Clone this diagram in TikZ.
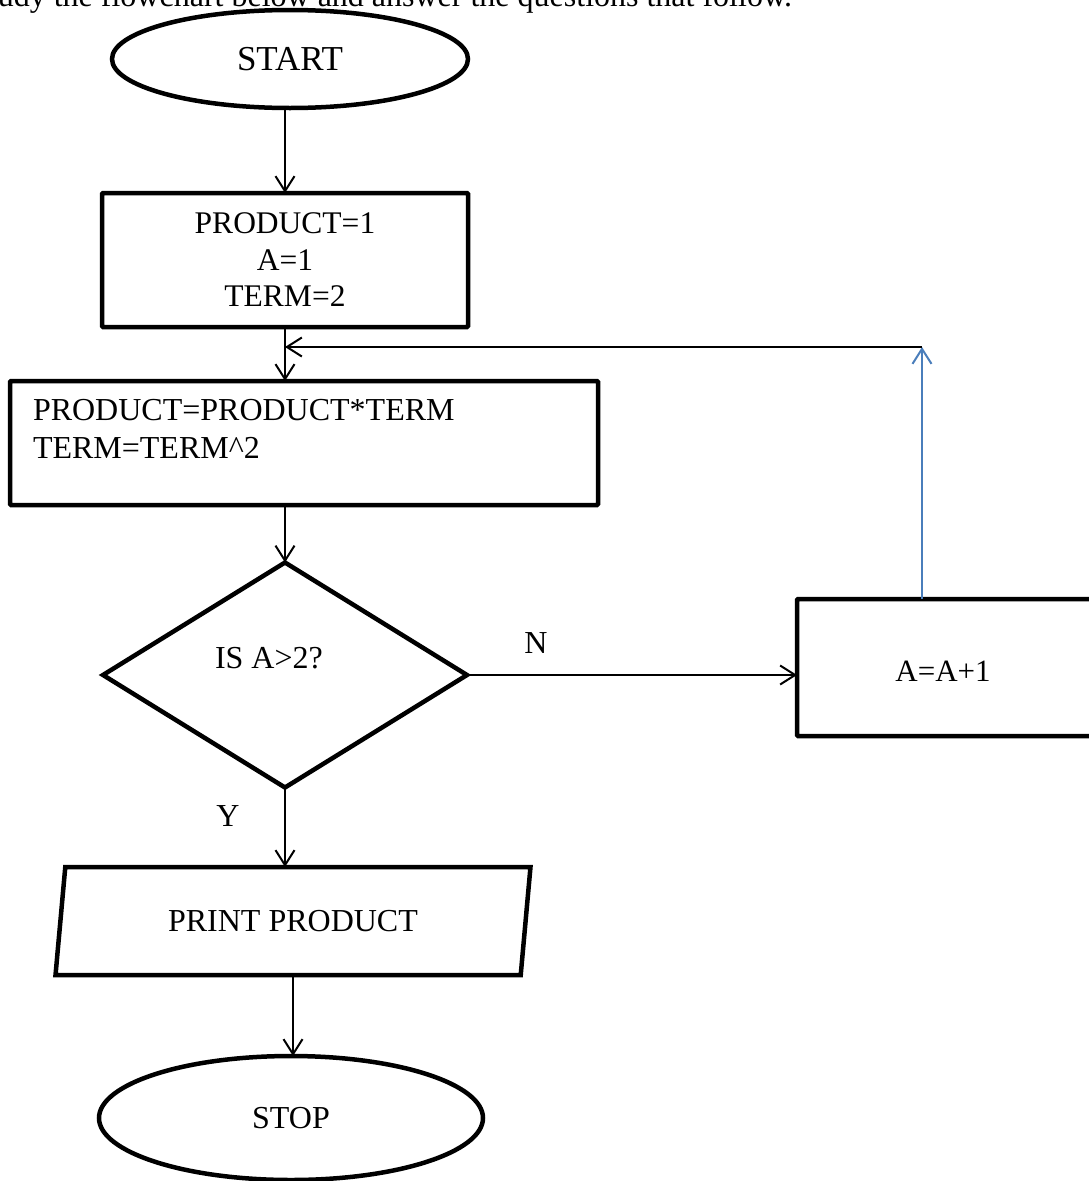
\documentclass[tikz,border=0pt]{standalone}
\usepackage{fontspec}
\setmainfont{Liberation Serif}
\usetikzlibrary{arrows.meta,shapes.geometric}
\definecolor{loopblue}{RGB}{74,126,187}
\begin{document}
\begin{tikzpicture}[x=1pt,y=-1pt,
  every node/.style={inner sep=0pt, outer sep=0pt},
  shapeline/.style={draw=black, line width=4.5pt},
  terminal/.style={shapeline, ellipse},
  process/.style={shapeline, rectangle, rounded corners=1pt},
  decision/.style={shapeline, diamond},
  io/.style={shapeline, trapezium, trapezium left angle=76, trapezium right angle=104, trapezium stretches},
  flow/.style={line width=2pt, -{Straight Barb[length=15pt,width=19pt,line width=2pt]}},
  txt/.style={font=\fontsize{32}{38}\selectfont},
  inittxt/.style={font=\fontsize{31.5}{36.5}\selectfont},
  bigtxt/.style={font=\fontsize{35}{38}\selectfont},
]
\useasboundingbox (0,0) rectangle (1089,1181);

% heading line above the chart
\node[txt, anchor=base east] (head) at (792,6) {Study the flowchart below and answer the questions that follow.};

% shapes of the flowchart
\node[terminal, bigtxt, minimum width=356pt, minimum height=98pt] (start) at (290,59) {START};
\node[process, inittxt, align=center, minimum width=366pt, minimum height=134pt] (init) at (285,260) {PRODUCT=1\\A=1\\TERM=2};
\node[process, minimum width=588pt, minimum height=124pt] (calc) at (304,443) {};
\node[txt, anchor=north west, align=left] (calctext) at (33,399) {PRODUCT=PRODUCT*TERM\\TERM=TERM\textasciicircum 2};
\node[decision, minimum width=364pt, minimum height=225pt] (test) at (285,675) {};
\node[txt, anchor=base west] (testtext) at (215,668) {IS A>2?};
\node[process, minimum width=320pt, minimum height=137pt] (incr) at (957,667.5) {};
\node[txt, font=\fontsize{31}{38}\selectfont] (incrtext) at (943,671) {A=A+1};
\node[io, txt, minimum width=476pt, minimum height=108pt] (out) at (293,921) {PRINT PRODUCT};
\node[terminal, txt, minimum width=384pt, minimum height=124pt] (stop) at (291,1118) {STOP};

% branch labels
\node[txt] (nlabel) at (536,643) {N};
\node[txt] (ylabel) at (228,816) {Y};

% connectors
\coordinate (loopcorner) at (922,347);
\draw[flow] (start.south -| init.north) -- (init.north);
\draw[flow] (init.south) -- (init.south |- calc.north);
\draw[flow] (calc.south -| test.north) -- (test.north);
\draw[flow] (test.east) -- (test.east -| incr.west);
\draw[flow, draw=loopblue] (incr.north -| loopcorner) -- (loopcorner);
\draw[flow, line width=1.6pt] (loopcorner) -- (loopcorner -| init.south);
\draw[flow] (test.south) -- (test.south |- out.north);
\draw[flow] (out.south) -- (out.south |- stop.north);
\end{tikzpicture}
\end{document}
